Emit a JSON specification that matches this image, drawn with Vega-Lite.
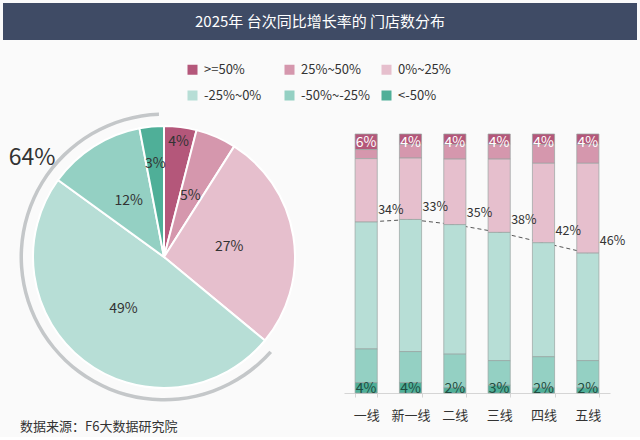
{
  "$schema": "https://vega.github.io/schema/vega-lite/v6.json",
  "background": "#fafafa",
  "padding": {"left": 3, "top": 3, "right": 3, "bottom": 3},
  "bounds": "flush",
  "spacing": 94,
  "config": {
    "font": "Noto Sans CJK SC",
    "view": {"stroke": null},
    "axis": {"grid": false}
  },
  "datasets": {
    "pie": [
      {"cat": ">=50%", "share": 0.04, "idx": 1},
      {"cat": "25%~50%", "share": 0.05, "idx": 2},
      {"cat": "0%~25%", "share": 0.27, "idx": 3},
      {"cat": "-25%~0%", "share": 0.49, "idx": 4},
      {"cat": "-50%~-25%", "share": 0.12, "idx": 5},
      {"cat": "<-50%", "share": 0.03, "idx": 6}
    ],
    "ring": [
      {"grp": "pos", "share": 0.36, "o": 1},
      {"grp": "neg", "share": 0.64, "o": 2}
    ],
    "pos": [
      {"city": "一线", "pos": 0.34},
      {"city": "新一线", "pos": 0.33},
      {"city": "二线", "pos": 0.35},
      {"city": "三线", "pos": 0.38},
      {"city": "四线", "pos": 0.42},
      {"city": "五线", "pos": 0.46}
    ],
    "bars": [
      {"city": "一线", "cat": ">=50%", "share": 0.06, "idx": 1},
      {"city": "一线", "cat": "25%~50%", "share": 0.035, "idx": 2},
      {"city": "一线", "cat": "0%~25%", "share": 0.245, "idx": 3},
      {"city": "一线", "cat": "-25%~0%", "share": 0.49, "idx": 4},
      {"city": "一线", "cat": "-50%~-25%", "share": 0.13, "idx": 5},
      {"city": "一线", "cat": "<-50%", "share": 0.04, "idx": 6},
      {"city": "新一线", "cat": ">=50%", "share": 0.04, "idx": 1},
      {"city": "新一线", "cat": "25%~50%", "share": 0.053, "idx": 2},
      {"city": "新一线", "cat": "0%~25%", "share": 0.237, "idx": 3},
      {"city": "新一线", "cat": "-25%~0%", "share": 0.51, "idx": 4},
      {"city": "新一线", "cat": "-50%~-25%", "share": 0.12, "idx": 5},
      {"city": "新一线", "cat": "<-50%", "share": 0.04, "idx": 6},
      {"city": "二线", "cat": ">=50%", "share": 0.04, "idx": 1},
      {"city": "二线", "cat": "25%~50%", "share": 0.057, "idx": 2},
      {"city": "二线", "cat": "0%~25%", "share": 0.253, "idx": 3},
      {"city": "二线", "cat": "-25%~0%", "share": 0.5, "idx": 4},
      {"city": "二线", "cat": "-50%~-25%", "share": 0.13, "idx": 5},
      {"city": "二线", "cat": "<-50%", "share": 0.02, "idx": 6},
      {"city": "三线", "cat": ">=50%", "share": 0.04, "idx": 1},
      {"city": "三线", "cat": "25%~50%", "share": 0.057, "idx": 2},
      {"city": "三线", "cat": "0%~25%", "share": 0.283, "idx": 3},
      {"city": "三线", "cat": "-25%~0%", "share": 0.495, "idx": 4},
      {"city": "三线", "cat": "-50%~-25%", "share": 0.095, "idx": 5},
      {"city": "三线", "cat": "<-50%", "share": 0.03, "idx": 6},
      {"city": "四线", "cat": ">=50%", "share": 0.04, "idx": 1},
      {"city": "四线", "cat": "25%~50%", "share": 0.073, "idx": 2},
      {"city": "四线", "cat": "0%~25%", "share": 0.307, "idx": 3},
      {"city": "四线", "cat": "-25%~0%", "share": 0.44, "idx": 4},
      {"city": "四线", "cat": "-50%~-25%", "share": 0.12, "idx": 5},
      {"city": "四线", "cat": "<-50%", "share": 0.02, "idx": 6},
      {"city": "五线", "cat": ">=50%", "share": 0.04, "idx": 1},
      {"city": "五线", "cat": "25%~50%", "share": 0.073, "idx": 2},
      {"city": "五线", "cat": "0%~25%", "share": 0.347, "idx": 3},
      {"city": "五线", "cat": "-25%~0%", "share": 0.415, "idx": 4},
      {"city": "五线", "cat": "-50%~-25%", "share": 0.105, "idx": 5},
      {"city": "五线", "cat": "<-50%", "share": 0.02, "idx": 6}
    ]
  },
  "vconcat": [
    {
      "width": 634,
      "height": 37,
      "view": {"fill": "#3f4b65", "stroke": null},
      "data": {"values": [{"title": "2025年 台次同比增长率的 门店数分布"}]},
      "mark": {"type": "text", "color": "white", "fontSize": 15},
      "encoding": {"text": {"field": "title", "type": "nominal"}}
    },
    {
      "bounds": "flush",
      "spacing": 19,
      "hconcat": [
        {
          "width": 322,
          "height": 246,
          "title": {
            "text": "数据来源：F6大数据研究院",
            "orient": "bottom",
            "anchor": "start",
            "frame": "group",
            "offset": 19,
            "dx": 17,
            "fontSize": 13,
            "fontWeight": "normal",
            "color": "#333333"
          },
          "layer": [
            {
              "data": {"name": "ring"},
              "mark": {"type": "arc", "innerRadius": 141, "outerRadius": 144.5, "padAngle": 0.05, "fill": "#c4c7c9"},
              "encoding": {
                "theta": {"field": "share", "type": "quantitative", "stack": true},
                "order": {"field": "o", "type": "quantitative"},
                "opacity": {"condition": {"test": "datum.grp === 'neg'", "value": 1}, "value": 0}
              }
            },
            {
              "data": {"name": "ring"},
              "transform": [{"filter": "datum.grp === 'neg'"}],
              "mark": {"type": "text", "radius": 165, "theta": 5.357, "fontSize": 23, "color": "#333333"},
              "encoding": {
                "text": {"field": "share", "type": "quantitative", "format": ".0%"}
              }
            },
            {
              "data": {"name": "pie"},
              "mark": {"type": "arc", "outerRadius": 131, "stroke": "white", "strokeWidth": 2},
              "encoding": {
                "theta": {"field": "share", "type": "quantitative", "stack": true},
                "order": {"field": "idx", "type": "quantitative"},
                "color": {
                  "field": "cat",
                  "type": "nominal",
                  "scale": {
                    "domain": [">=50%", "25%~50%", "0%~25%", "-25%~0%", "-50%~-25%", "<-50%"],
                    "range": ["#b4577a", "#d597ad", "#e6bfcd", "#b7ded6", "#94d0c3", "#4faf98"]
                  },
                  "legend": {
                    "orient": "none",
                    "legendX": 183,
                    "legendY": 60,
                    "direction": "horizontal",
                    "columns": 3,
                    "title": null,
                    "symbolType": "square",
                    "symbolSize": 100,
                    "symbolStrokeWidth": 0,
                    "labelFontSize": 13,
                    "labelColor": "#333333",
                    "labelOffset": 5,
                    "gridAlign": "all",
                    "columnPadding": 9,
                    "rowPadding": 12,
                    "padding": 0
                  }
                }
              }
            },
            {
              "data": {"name": "pie"},
              "mark": {"type": "text", "radius": 66, "fontSize": 14, "color": "#333333"},
              "encoding": {
                "theta": {"field": "share", "type": "quantitative", "stack": true},
                "order": {"field": "idx", "type": "quantitative"},
                "text": {"field": "share", "type": "quantitative", "format": ".0%"},
                "opacity": {"condition": {"test": "datum.share >= 0.05", "value": 1}, "value": 0}
              }
            },
            {
              "data": {"name": "pie"},
              "mark": {"type": "text", "radius": 116, "fontSize": 14, "color": "#333333"},
              "encoding": {
                "theta": {"field": "share", "type": "quantitative", "stack": true},
                "order": {"field": "idx", "type": "quantitative"},
                "text": {"field": "share", "type": "quantitative", "format": ".0%"},
                "opacity": {"condition": {"test": "datum.cat === '>=50%'", "value": 1}, "value": 0}
              }
            },
            {
              "data": {"name": "pie"},
              "mark": {"type": "text", "radius": 93, "fontSize": 14, "color": "#333333"},
              "encoding": {
                "theta": {"field": "share", "type": "quantitative", "stack": true},
                "order": {"field": "idx", "type": "quantitative"},
                "text": {"field": "share", "type": "quantitative", "format": ".0%"},
                "opacity": {"condition": {"test": "datum.cat === '<-50%'", "value": 1}, "value": 0}
              }
            }
          ]
        },
        {
          "width": 266,
          "height": 259,
          "layer": [
            {
              "data": {"name": "pos"},
              "mark": {"type": "line", "strokeDash": [4, 3], "color": "#555555", "strokeWidth": 1},
              "encoding": {
                "x": {
                  "field": "city",
                  "type": "nominal",
                  "sort": ["一线", "新一线", "二线", "三线", "四线", "五线"],
                  "scale": {"paddingInner": 0.5, "paddingOuter": 0.25},
                  "axis": {
                    "title": null,
                    "labelAngle": 0,
                    "labelFontSize": 13,
                    "labelColor": "#333333",
                    "labelPadding": 12,
                    "domainColor": "#d5d5d5",
                    "tickColor": "#d5d5d5",
                    "tickBand": "extent",
                    "tickSize": 4
                  }
                },
                "y": {
                  "field": "pos",
                  "type": "quantitative",
                  "scale": {"domain": [0, 1], "reverse": true},
                  "axis": null
                }
              }
            },
            {
              "data": {"name": "bars"},
              "mark": {"type": "bar", "stroke": "#9aa3a1", "strokeWidth": 0.7},
              "encoding": {
                "x": {"field": "city", "type": "nominal", "sort": ["一线", "新一线", "二线", "三线", "四线", "五线"]},
                "y": {"field": "share", "type": "quantitative", "stack": true},
                "order": {"field": "idx", "type": "quantitative"},
                "color": {"field": "cat", "type": "nominal"}
              }
            },
            {
              "data": {"name": "bars"},
              "transform": [{"filter": "datum.cat === '>=50%'"}],
              "mark": {"type": "text", "color": "white", "fontSize": 14, "baseline": "top", "dy": 2},
              "encoding": {
                "x": {"field": "city", "type": "nominal", "sort": ["一线", "新一线", "二线", "三线", "四线", "五线"]},
                "y": {"datum": 0, "type": "quantitative"},
                "text": {"field": "share", "type": "quantitative", "format": ".0%"}
              }
            },
            {
              "data": {"name": "bars"},
              "transform": [{"filter": "datum.cat === '<-50%'"}],
              "mark": {"type": "text", "color": "#1f4d40", "fontSize": 14, "baseline": "middle", "dy": -4},
              "encoding": {
                "x": {"field": "city", "type": "nominal", "sort": ["一线", "新一线", "二线", "三线", "四线", "五线"]},
                "y": {"datum": 1, "type": "quantitative"},
                "text": {"field": "share", "type": "quantitative", "format": ".0%"}
              }
            },
            {
              "data": {"name": "pos"},
              "mark": {"type": "text", "color": "#333333", "fontSize": 12.5, "align": "left", "dx": 12, "dy": -12},
              "encoding": {
                "x": {"field": "city", "type": "nominal", "sort": ["一线", "新一线", "二线", "三线", "四线", "五线"]},
                "y": {"field": "pos", "type": "quantitative"},
                "text": {"field": "pos", "type": "quantitative", "format": ".0%"}
              }
            }
          ]
        }
      ]
    }
  ]
}
